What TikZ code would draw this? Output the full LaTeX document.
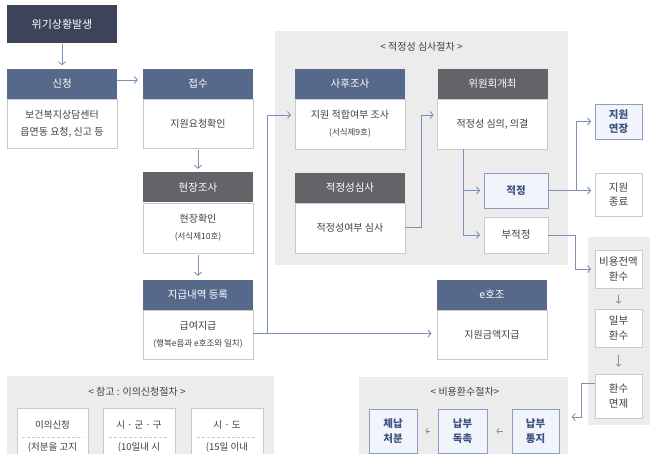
\documentclass[tikz,border=0pt]{standalone}
\usepackage{fontspec}
\setmainfont{Noto Sans CJK KR}
\usetikzlibrary{arrows.meta}
\definecolor{navyH}{HTML}{3D4358}
\definecolor{blueH}{HTML}{56698B}
\definecolor{grayH}{HTML}{636468}
\definecolor{panelC}{HTML}{ECECEC}
\definecolor{borderC}{HTML}{CACACA}
\definecolor{connC}{HTML}{7B90B4}
\definecolor{textC}{HTML}{404040}
\definecolor{lbFill}{HTML}{F1F4FA}
\definecolor{lbBorder}{HTML}{8C9EBF}
\definecolor{lbText}{HTML}{3E5382}
\definecolor{smallArr}{HTML}{8C8C8C}
\newcommand\smtx{\fontsize{8.5}{17}\selectfont}
\begin{document}
\begin{tikzpicture}[x=1pt,y=-1pt,
  panel/.style={rectangle, fill=panelC, inner sep=0pt, draw=none},
  paneltitle/.style={inner sep=0pt, text=textC, font=\fontsize{10}{12}\selectfont},
  navybox/.style={rectangle, fill=navyH, inner sep=0pt, text=white, minimum width=110pt, minimum height=38pt, font=\fontsize{11}{13}\selectfont},
  hdr/.style={rectangle, inner sep=0pt, text=white, minimum width=110pt, minimum height=30pt, font=\fontsize{10.5}{12}\selectfont},
  bodybox/.style={rectangle, draw=borderC, line width=0.8pt, fill=white, minimum width=110pt, inner sep=0pt, align=center, text=textC, font=\fontsize{10}{17}\selectfont},
  smallbox/.style={rectangle, draw=borderC, line width=0.8pt, fill=white, minimum width=47pt, inner sep=0pt, align=center, text=textC, font=\fontsize{10.5}{14.5}\selectfont},
  lbbox/.style={smallbox, fill=lbFill, draw=lbBorder, text=lbText, font=\fontsize{10.5}{14.5}\selectfont\bfseries},
  refbox/.style={rectangle, draw=borderC, line width=0.8pt, fill=white, inner sep=0pt},
  reftext/.style={inner sep=0pt, text=textC, font=\fontsize{9.5}{11}\selectfont},
  dashline/.style={draw=borderC, line width=0.6pt, dash pattern=on 3pt off 2pt},
  conn/.style={draw=connC, line width=0.9pt},
  arr/.style={conn, -{Straight Barb[length=3pt,width=7pt]}, shorten >=3.5pt},
  sarr/.style={draw=smallArr, line width=0.7pt, -{Straight Barb[length=2pt,width=5pt]}}
]
\useasboundingbox (0,0) rectangle (650,454);
\clip (0,0) rectangle (650,454);

% ---------- panels ----------
\node[panel, minimum width=293pt, minimum height=234pt] (pA) at (421.5,148) {};
\node[paneltitle] (tA) at (421.5,47) {< 적정성 심사절차 >};
\node[panel, minimum width=62pt, minimum height=188pt] (pB) at (619,331) {};
\node[panel, minimum width=209pt, minimum height=93pt] (pC) at (463.5,423.5) {};
\node[paneltitle] (tC) at (465,392) {< 비용환수절차>};
\node[panel, minimum width=267pt, minimum height=94pt] (pD) at (140.5,423) {};
\node[paneltitle] (tD) at (137,392) {< 참고 : 이의신청절차 >};

% ---------- left column ----------
\node[navybox] (wg) at (62,24.5) {위기상황발생};
\node[hdr, fill=blueH] (sc-h) at (62,84) {신청};
\node[bodybox, minimum height=49pt] (sc-b) at (62,123.5) {보건복지상담센터\\읍면동 요청, 신고 등};

\node[hdr, fill=blueH] (js-h) at (198,84) {접수};
\node[bodybox, minimum height=49pt] (js-b) at (198,123.5) {지원요청확인};
\node[hdr, fill=grayH] (hj-h) at (198,187.5) {현장조사};
\node[bodybox, minimum height=50pt] (hj-b) at (198,228) {현장확인\\\smtx(서식제10호)};
\node[hdr, fill=blueH] (jg-h) at (198,294.5) {지급내역 등록};
\node[bodybox, minimum height=49pt] (jg-b) at (198,334.5) {급여지급\\\smtx(행복e음과 e호조와 일치)};

% ---------- review panel ----------
\node[hdr, fill=blueH] (sh-h) at (350,84) {사후조사};
\node[bodybox, minimum height=50pt] (sh-b) at (350,124) {지원 적합여부 조사\\\smtx(서식제9호)};
\node[hdr, fill=grayH] (js2-h) at (350,188) {적정성심사};
\node[bodybox, minimum height=50pt] (js2-b) at (350,228) {적정성여부 심사};
\node[hdr, fill=grayH] (wh-h) at (492.5,84) {위원회개최};
\node[bodybox, minimum height=50pt] (wh-b) at (492.5,124) {적정성 심의, 의결};
\node[lbbox, minimum width=64pt, minimum height=35pt] (jj) at (516,190.5) {적정};
\node[smallbox, minimum width=64pt, minimum height=36pt] (bj) at (516,235) {부적정};

\node[hdr, fill=blueH] (ez-h) at (492,294.5) {e호조};
\node[bodybox, minimum height=49pt] (ez-b) at (492,334.5) {지원금액지급};

% ---------- right column ----------
\node[lbbox, minimum height=35pt] (jy) at (618.5,121.5) {지원\\연장};
\node[smallbox, minimum height=43pt] (jr) at (618.5,194.5) {지원\\종료};
\node[smallbox, minimum height=38pt] (bh) at (618.5,269) {비용전액\\환수};
\node[smallbox, minimum height=38pt] (ir) at (618.5,328) {일부\\환수};
\node[smallbox, minimum height=44pt] (hm) at (618.5,396) {환수\\면제};

% ---------- recovery panel ----------
\node[lbbox, minimum width=48pt, minimum height=44pt] (cb) at (393,431) {체납\\처분};
\node[lbbox, minimum width=49pt, minimum height=44pt] (nd) at (462.5,431) {납부\\독촉};
\node[lbbox, minimum width=47pt, minimum height=44pt] (nt) at (535.5,431) {납부\\통지};

% ---------- reference panel ----------
\node[refbox, minimum width=71pt, minimum height=72pt] (r1) at (52.5,444) {};
\node[refbox, minimum width=72pt, minimum height=72pt] (r2) at (139,444) {};
\node[refbox, minimum width=72pt, minimum height=72pt] (r3) at (227,444) {};
\node[reftext] (r1t) at (52.5,424.5) {이의신청};
\node[reftext] (r2t) at (139,424.5) {시 · 군 · 구};
\node[reftext] (r3t) at (227,424.5) {시 · 도};
\draw[dashline] (22,437) -- (83,437);
\draw[dashline] (109,437) -- (169,437);
\draw[dashline] (197,437) -- (257,437);
\node[reftext] (r1s) at (52.5,447.5) {(처분을 고지};
\node[reftext] (r2s) at (139,447.5) {(10일내 시};
\node[reftext] (r3s) at (227,447.5) {(15일 이내};

% ---------- connectors ----------
\draw[arr] (wg.south) -- (sc-h.north);
\draw[arr, shorten >=5pt] ([yshift=4pt]sc-h.east) -- ([yshift=4pt]js-h.west);
\draw[arr, shorten <=2pt] (js-b.south) -- (hj-h.north);
\draw[arr, shorten <=2pt] (hj-b.south) -- (jg-h.north);
\draw[arr] ([yshift=1pt]jg-b.east) -- ++(14,0) |- ([yshift=9pt]sh-b.west);
\draw[arr, shorten >=5pt] ([yshift=1pt]jg-b.east) -- ([yshift=1pt]ez-b.west);
\draw[arr] ([yshift=1pt]js2-b.east) -- ++(16,0) |- ([yshift=9pt]wh-b.west);
\coordinate (wsplit) at ([xshift=-29.5pt]wh-b.south);
\draw[arr] (wsplit) |- (jj.west);
\draw[arr] (wsplit) |- (bj.west);
\draw[arr] (jj.east) -- (jj.east -| jr.west);
\draw[arr] (jj.east) -- ++(28,0) |- (jy.west);
\draw[arr] (bj.east) -- ++(27,0) |- (bh.west);
\draw[sarr, shorten <=7pt, shorten >=5pt] (bh.south) -- (ir.north);
\draw[sarr, shorten <=8pt, shorten >=7pt] (ir.south) -- (hm.north);
\draw[arr] ([yshift=13pt]hm.west) -- ++(-13,0) |- ([yshift=6.5pt]pC.east);
\draw[sarr, shorten <=9pt, shorten >=9pt] (nt.west) -- (nd.east);
\draw[sarr, shorten <=8pt, shorten >=8pt] (nd.west) -- (cb.east);
\end{tikzpicture}
\end{document}
